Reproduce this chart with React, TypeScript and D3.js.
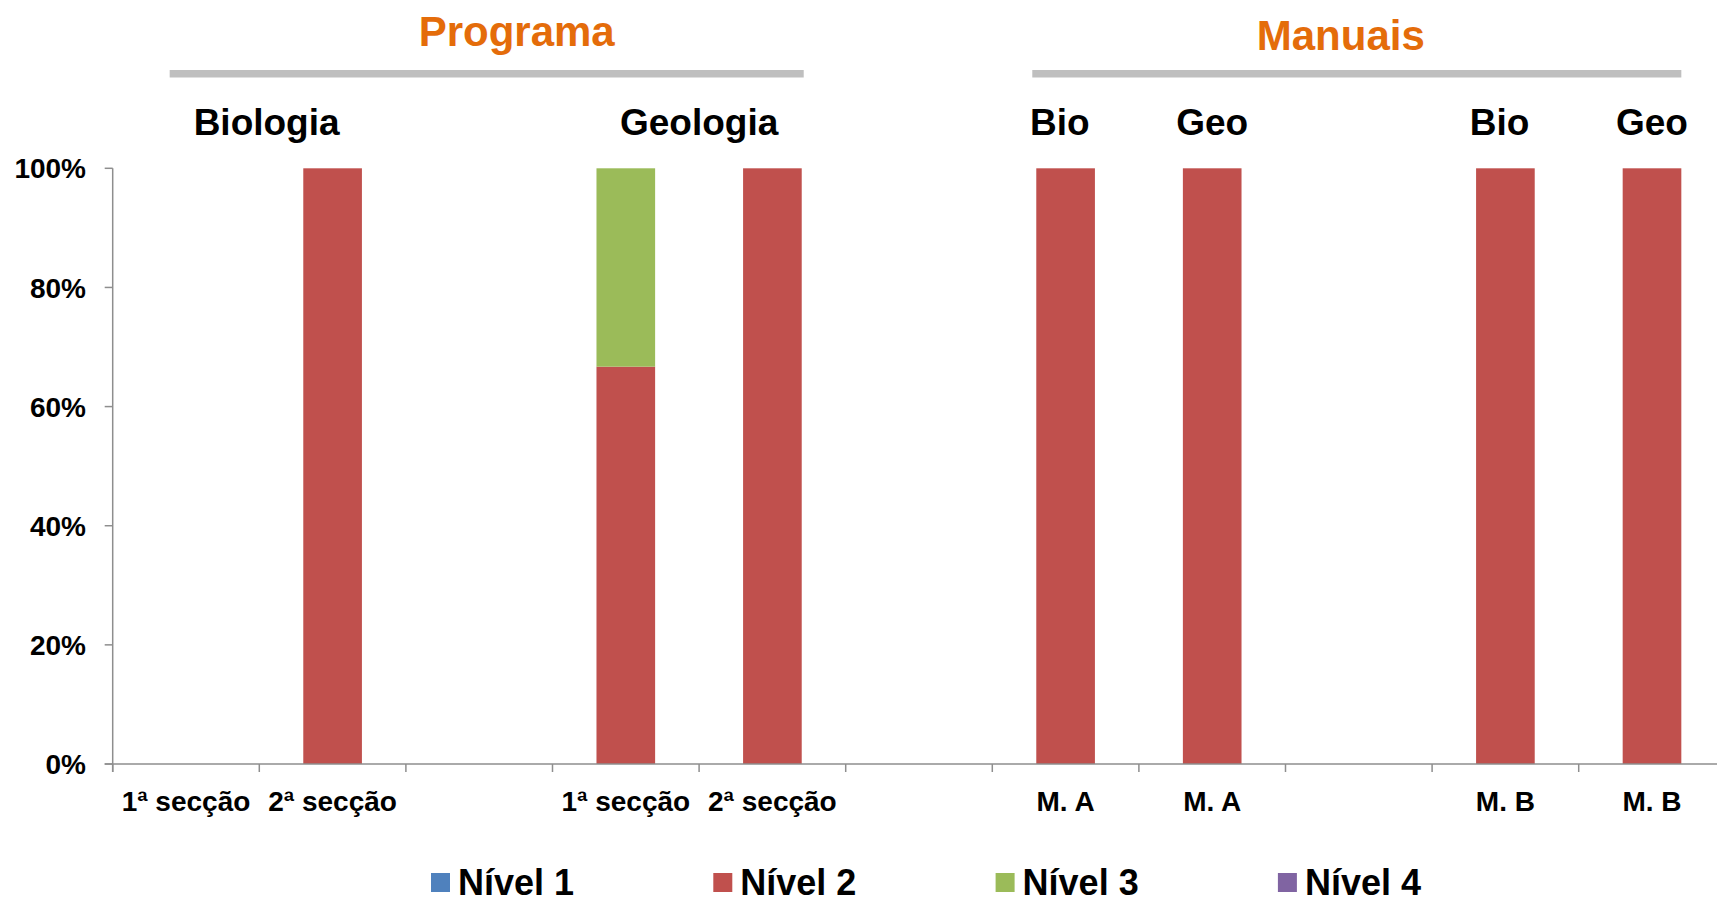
import React from "react";
import * as d3 from "d3";

const categories = ["1ª secção", "2ª secção", "", "1ª secção", "2ª secção", "", "M. A", "M. A", "", "M. B", "M. B"];
const nivel1 = [0, 0, 0, 0, 0, 0, 0, 0, 0, 0, 0];
const nivel2 = [0, 100, 0, 66.7, 100, 0, 100, 100, 0, 100, 100];
const nivel3 = [0, 0, 0, 33.3, 0, 0, 0, 0, 0, 0, 0];
const nivel4 = [0, 0, 0, 0, 0, 0, 0, 0, 0, 0, 0];
const seriesNames = ["Nível 1", "Nível 2", "Nível 3", "Nível 4"];
const seriesColors = ["#4F81BD", "#C0504D", "#9BBB59", "#8064A2"];
const yTicks = [0, 20, 40, 60, 80, 100];
const subHeaders = [
  { label: "Biologia", at: 1.05 },
  { label: "Geologia", at: 4.0 },
  { label: "Bio", at: 6.46 },
  { label: "Geo", at: 7.5 },
  { label: "Bio", at: 9.46 },
  { label: "Geo", at: 10.5 },
];
const groupHeaders = [
  { label: "Programa", start: 0, end: 4 },
  { label: "Manuais", start: 6, end: 10 },
];

const W = 1717;
const H = 904;
const FONT = "'Liberation Sans', Arial, sans-serif";

export default function App() {
  const left = 112.7;
  const right = 1725.3;
  const top = 168.3;
  const bottom = 764;
  const idx = categories.map((_, i) => i);
  const x = d3.scaleBand<number>().domain(idx).range([left, right]).paddingInner(0.6).paddingOuter(0.3);
  const y = d3.scaleLinear().domain([0, 100]).range([bottom, top]);
  const step = x.step();
  const pos = (t: number) => left + t * step;

  const table = idx.map((i) => ({ i, n1: nivel1[i], n2: nivel2[i], n3: nivel3[i], n4: nivel4[i] }));
  const stacked = d3.stack<any>().keys(["n1", "n2", "n3", "n4"])(table);

  const axisColor = "#8e8e8e";

  return (
    <svg width={W} height={H} style={{ position: "absolute", left: 0, top: 0, background: "#fff" }} fontFamily={FONT}>
      {groupHeaders.map((g, gi) => {
        const x1 = (x(g.start) as number) + (gi === 0 ? 13 : -4);
        const x2 = (x(g.end) as number) + x.bandwidth() + (gi === 0 ? 2 : 0);
        const cx = (x1 + x2) / 2 + (gi === 0 ? 30 : -16);
        return (
          <g key={g.label}>
            <text x={cx} y={gi === 0 ? 46 : 50} textAnchor="middle" fontWeight="bold" fontSize={42} fill="#E46C0A">
              {g.label}
            </text>
            <rect x={x1} y={70} width={x2 - x1} height={7.5} fill="#BFBFBF" />
          </g>
        );
      })}
      {subHeaders.map((s, i) => (
        <text key={i} x={pos(s.at)} y={135} textAnchor="middle" fontWeight="bold" fontSize={37} fill="#000">
          {s.label}
        </text>
      ))}
      {stacked.map((layer, si) =>
        layer.map((d, j) =>
          d[1] - d[0] > 0 ? (
            <rect
              key={`${si}-${j}`}
              x={x(j) as number}
              y={y(d[1])}
              width={x.bandwidth()}
              height={y(d[0]) - y(d[1])}
              fill={seriesColors[si]}
            />
          ) : null
        )
      )}
      <line x1={left} x2={left} y1={top} y2={bottom + 8} stroke={axisColor} strokeWidth={1.5} />
      {yTicks.map((t) => (
        <g key={t}>
          <line x1={left - 8} x2={left} y1={y(t)} y2={y(t)} stroke={axisColor} strokeWidth={1.5} />
          <text x={86} y={y(t)} dy="0.36em" textAnchor="end" fontWeight="bold" fontSize={28} fill="#000">
            {t}%
          </text>
        </g>
      ))}
      <line x1={left - 8} x2={W} y1={bottom} y2={bottom} stroke={axisColor} strokeWidth={1.5} />
      {d3.range(categories.length + 1).map((k) => (
        <line key={k} x1={pos(k)} x2={pos(k)} y1={bottom} y2={bottom + 8} stroke={axisColor} strokeWidth={1.5} />
      ))}
      {categories.map((c, i) => (
        <text key={i} x={(x(i) as number) + x.bandwidth() / 2} y={811} textAnchor="middle" fontWeight="bold" fontSize={28} fill="#000">
          {c}
        </text>
      ))}
      {seriesNames.map((n, i) => {
        const lx = 431 + i * 282.3;
        return (
          <g key={n}>
            <rect x={lx} y={873} width={19} height={19} fill={seriesColors[i]} />
            <text x={lx + 27} y={895} fontWeight="bold" fontSize={36} fill="#000">
              {n}
            </text>
          </g>
        );
      })}
    </svg>
  );
}
